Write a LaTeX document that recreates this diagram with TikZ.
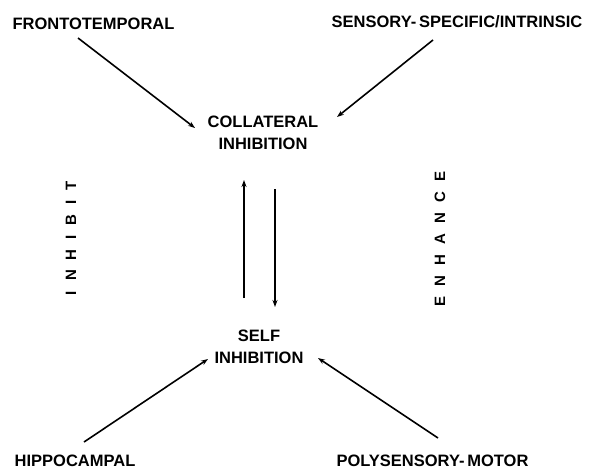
\documentclass[tikz,border=0pt]{standalone}
\usepackage{fontspec}
\setmainfont{Liberation Sans}
\usetikzlibrary{arrows.meta}
\begin{document}
\begin{tikzpicture}[x=1pt,y=-1pt,
  lbl/.style={font=\bfseries\fontsize{16.5}{22}\selectfont, inner sep=0pt, align=center},
  vlbl/.style={font=\bfseries\fontsize{15}{18}\selectfont, inner sep=0pt, rotate=90},
  conn/.style={line width=1.6pt, -{Stealth[length=7pt,width=5pt]}},
  vconn/.style={line width=2pt, -{Stealth[length=7pt,width=5pt]}}]
\useasboundingbox (0,0) rectangle (593,469);
\node[lbl] (fronto) at (93.5,24) {FRONTOTEMPORAL};
\node[lbl] (sens) at (457,21.5) {SENSORY-\,SPECIFIC/INTRINSIC};
\node[lbl] (coll) at (263,132.5) {COLLATERAL\\INHIBITION};
\node[lbl] (self) at (259,346.5) {SELF\\INHIBITION};
\node[lbl] (hippo) at (75,461) {HIPPOCAMPAL};
\node[lbl] (poly) at (432.5,461) {POLYSENSORY-\,MOTOR};
\node[vlbl] (inh) at (71,238) {I\hspace{10pt}N\hspace{10pt}H\hspace{10pt}I\hspace{10pt}B\hspace{10pt}I\hspace{10pt}T};
\node[vlbl] (enh) at (440,239) {E\hspace{10pt}N\hspace{10pt}H\hspace{10pt}A\hspace{10pt}N\hspace{10pt}C\hspace{10pt}E};
\coordinate (f0) at (78,38);
\coordinate (f1) at (195,128);
\coordinate (s0) at (433,40);
\coordinate (s1) at (337,117);
\coordinate (h0) at (84,442);
\coordinate (h1) at (208,359);
\coordinate (p0) at (438,438);
\coordinate (p1) at (318,358);
\coordinate (u0) at (244,298);
\coordinate (u1) at (244,180);
\coordinate (d0) at (275,189);
\coordinate (d1) at (275,307);
\draw[conn] (f0) -- (f1);
\draw[conn] (s0) -- (s1);
\draw[conn] (h0) -- (h1);
\draw[conn] (p0) -- (p1);
\draw[vconn] (u0) -- (u1);
\draw[vconn] (d0) -- (d1);
\end{tikzpicture}
\end{document}
